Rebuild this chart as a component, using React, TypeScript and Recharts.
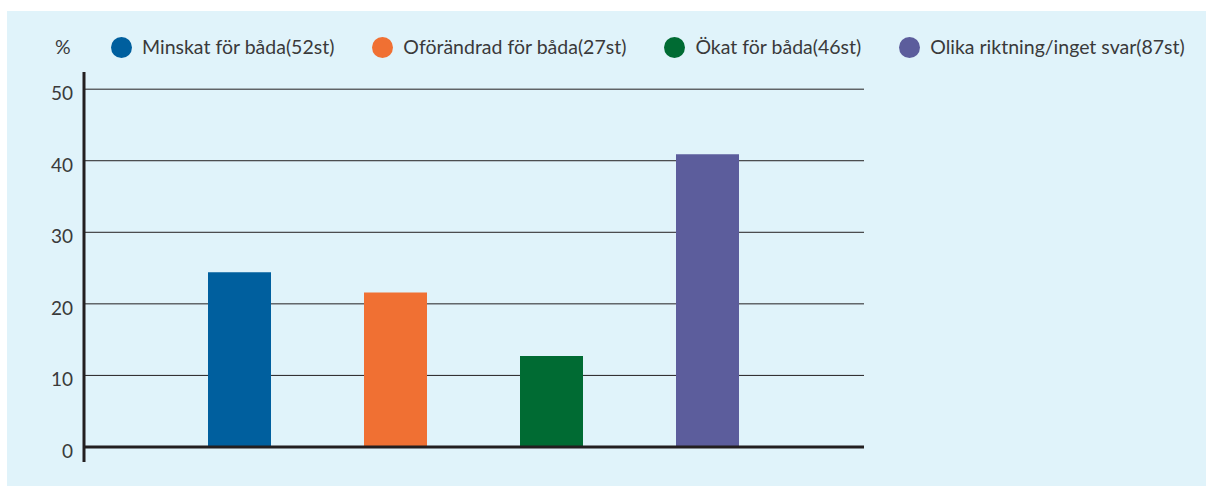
import { BarChart, Bar, Cell, XAxis, YAxis, CartesianGrid, ReferenceLine } from "recharts"

const categories = ["Minskat för båda(52st)", "Oförändrad för båda(27st)", "Ökat för båda(46st)", "Olika riktning/inget svar(87st)"]
const values = [24.4, 21.6, 12.7, 40.9]
const colors = ["#005f9e", "#f07033", "#006b33", "#5c5d9c"]
const yTicks = [0, 10, 20, 30, 40, 50]

const data = categories.map((name, i) => ({ name, value: values[i], pos: i + 1 }))

const FONT = "Lato, 'Open Sans', sans-serif"
const TEXT = "#3a3a3a"
const INK = "#231f20"

function YTick({ x, y, payload }: any) {
  return (
    <text x={x} y={y + 6} textAnchor="end" dominantBaseline="middle" fontSize={19} fontFamily={FONT} fill={TEXT}>
      {payload.value}
    </text>
  )
}

// legend sits above the plot, drawn as plain html
function ChartLegend() {
  return (
    <div
      style={{
        position: "absolute",
        top: 24,
        left: 48,
        display: "flex",
        alignItems: "center",
        fontFamily: FONT,
        fontSize: 19.5,
        lineHeight: "24px",
        color: TEXT,
      }}
    >
      <span style={{ width: 56 }}>%</span>
      <div style={{ display: "flex", gap: 38 }}>
        {categories.map((c, i) => (
          <div key={c} style={{ display: "flex", alignItems: "center", gap: 10 }}>
            <span style={{ width: 21, height: 21, borderRadius: "50%", background: colors[i], display: "inline-block" }} />
            <span>{c}</span>
          </div>
        ))}
      </div>
    </div>
  )
}

export default function App() {
  return (
    <div style={{ position: "absolute", left: 7, top: 11, width: 1199, height: 475, background: "#e0f3fa" }}>
      <ChartLegend />
      <BarChart width={1199} height={475} data={data} margin={{ top: 61, right: 342, bottom: 24, left: 0 }}>
        <CartesianGrid horizontal vertical={false} horizontalValues={yTicks} stroke={INK} strokeWidth={1} />
        <XAxis dataKey="pos" type="number" domain={[0, 5]} hide />
        <YAxis
          type="number"
          domain={[-2.1, 52.4]}
          ticks={yTicks}
          width={77}
          tickLine={false}
          tickSize={0}
          tickMargin={11}
          axisLine={{ stroke: INK, strokeWidth: 3 }}
          tick={<YTick />}
          interval={0}
          allowDataOverflow
        />
        <ReferenceLine y={0} stroke={INK} strokeWidth={3} />
        <Bar dataKey="value" barSize={63} isAnimationActive={false}>
          {data.map((d, i) => (
            <Cell key={d.name} fill={colors[i]} />
          ))}
        </Bar>
      </BarChart>
    </div>
  )
}
